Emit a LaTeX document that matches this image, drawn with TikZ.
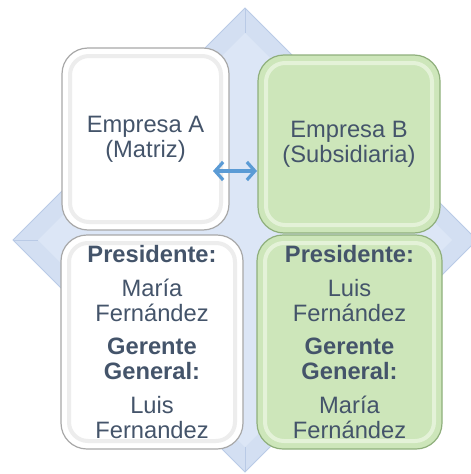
\documentclass[tikz,border=0pt]{standalone}
\usepackage{fontspec}
\setmainfont{Liberation Sans}
\usetikzlibrary{arrows.meta}
\definecolor{txt}{HTML}{44546A}
\definecolor{dia}{HTML}{D3DFF2}
\definecolor{diain}{HTML}{DCE6F6}
\definecolor{diaedge}{HTML}{B9CAE6}
\definecolor{grn}{HTML}{CDE6BA}
\definecolor{grnedge}{HTML}{8FAF7C}
\definecolor{grnhi}{HTML}{E4F2D8}
\definecolor{wedge}{HTML}{A8A8A8}
\definecolor{whi}{HTML}{EDEDED}
\definecolor{arrblue}{HTML}{5B9BD5}
\begin{document}
\begin{tikzpicture}[x=1pt,y=-1pt,
  box/.style={rounded corners=26pt, inner sep=0pt, align=center, text=txt,
    font=\fontsize{23.7}{25}\selectfont, line width=1.2pt},
  wbox/.style={box, fill=white, draw=wedge,
    path picture={\draw[whi, line width=4pt, rounded corners=19pt]
      ([xshift=8pt,yshift=-8pt]path picture bounding box.north west) rectangle
      ([xshift=-8pt,yshift=8pt]path picture bounding box.south east);}},
  gbox/.style={box, fill=grn, draw=grnedge,
    path picture={\draw[grnhi, line width=4pt, rounded corners=19pt]
      ([xshift=8pt,yshift=-8pt]path picture bounding box.north west) rectangle
      ([xshift=-8pt,yshift=8pt]path picture bounding box.south east);}},
  link/.style={arrblue, line width=3.2pt,
    {Straight Barb[length=8pt,width=18pt]}-{Straight Barb[length=8pt,width=18pt]}}
]
\useasboundingbox (0,0) rectangle (471,474);
\clip (0,0) rectangle (471,474);
% background diamond
\fill[dia] (245,8) -- (477,240) -- (245,472) -- (13,240) -- cycle;
\fill[diain] (245,33) -- (452,240) -- (245,447) -- (38,240) -- cycle;
\draw[diaedge, line width=0.6pt] (245,8) -- (245,33) (13,240) -- (38,240) (245,472) -- (245,447);
\draw[diaedge, line width=0.8pt] (245,8) -- (477,240) -- (245,472) -- (13,240) -- cycle;
% boxes
\node[wbox, minimum width=167pt, minimum height=182pt] (A) at (145.5,139) {Empresa A\\(Matriz)};
\node[gbox, minimum width=182pt, minimum height=178pt] (B) at (349,144) {Empresa B\\(Subsidiaria)};
\node[wbox, minimum width=182pt, minimum height=214pt] (C) at (152,342)
  {\textbf{Presidente:}\\[9pt]María\\Fernández\\[8pt]\textbf{Gerente}\\\textbf{General:}\\[9pt]Luis\\Fernandez};
\node[gbox, minimum width=185pt, minimum height=214pt] (D) at (349.5,342)
  {\textbf{Presidente:}\\[9pt]Luis\\Fernández\\[8pt]\textbf{Gerente}\\\textbf{General:}\\[9pt]María\\Fernández};
% connector
\coordinate (al) at (213,171);
\coordinate (ar) at (257,171);
\draw[link] (al) -- (ar);
\end{tikzpicture}
\end{document}
